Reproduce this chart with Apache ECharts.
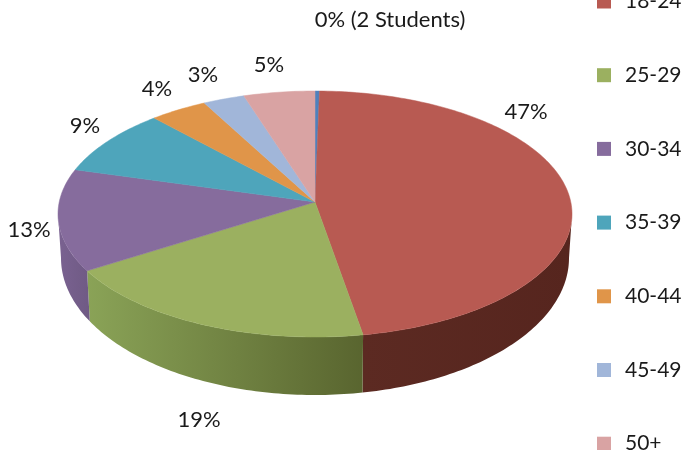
<!DOCTYPE html>
<html>
<head>
<meta charset="utf-8">
<style>
html, body { margin: 0; padding: 0; background: #fff; }
#chart { width: 686px; height: 450px; }
</style>
<script src="https://cdn.jsdelivr.net/npm/echarts@6/dist/echarts.min.js"></script>
</head>
<body>
<div id="chart"></div>
<script>
const categories = ['<18', '18-24', '25-29', '30-34', '35-39', '40-44', '45-49', '50+'];
const shares = [0.3, 46.9, 19.2, 13.4, 8.7, 3.9, 2.8, 4.8];
const labels = ['0% (2 Students)', '47%', '19%', '13%', '9%', '4%', '3%', '5%'];

const colors = ['#4f81bd', '#b85a52', '#9bb060', '#866c9d', '#4ea5bb', '#e09549', '#a1b6d9', '#d9a3a3'];
// 侧面颜色, 左 -> 右
const sideColors = [
    ['#3b618e', '#3b618e'], ['#5c2a22', '#56251e'], ['#8aa357', '#59652f'], ['#7a6291', '#6f5a84'],
    ['#3a7c8c', '#3a7c8c'], ['#a87037', '#a87037'], ['#79899f', '#79899f'], ['#a37a7a', '#a37a7a']
];
const labelPos = [[390, 20], [526, 112], [199, 420], [29, 230], [85, 126], [157, 89], [203, 75], [269, 65]];

const total = shares.reduce((a, b) => a + b, 0);
const apex = [315, 202];
const topRim = { cx: 315, cy: 214, rx: 257, ry: 123 };
const bottomRim = { cx: 315, cy: 258, rx: 254, ry: 137 };

// 透视: 角度略微偏移, 所以正面范围是 94 ~ 266
function rimPoint(rim, deg) {
    const t = (deg - 4 * Math.sin(deg * Math.PI / 180)) * Math.PI / 180;
    return [rim.cx + rim.rx * Math.sin(t), rim.cy - rim.ry * Math.cos(t)];
}

function arcPoints(rim, from, to) {
    const pts = [];
    const n = Math.max(2, Math.ceil(Math.abs(to - from)));
    for (let i = 0; i <= n; i++) {
        pts.push(rimPoint(rim, from + (to - from) * i / n));
    }
    return pts;
}

function startAngle(index) {
    let before = 0;
    for (let i = 0; i < index; i++) before += shares[i];
    return before / total * 360;
}

function renderSlice(index) {
    return function (params, api) {
        const from = startAngle(index);
        const to = from + api.value(0) / total * 360;
        const children = [];
        // 只画朝前的侧面
        const sideFrom = Math.max(from, 94);
        const sideTo = Math.min(to, 266);
        if (sideTo > sideFrom) {
            const upper = arcPoints(topRim, sideFrom, sideTo);
            const lower = arcPoints(bottomRim, sideTo, sideFrom);
            const xs = upper.concat(lower).map(p => p[0]);
            const x0 = Math.min.apply(null, xs);
            const x1 = Math.max.apply(null, xs);
            children.push({
                type: 'polygon',
                shape: { points: upper.concat(lower) },
                style: {
                    fill: new echarts.graphic.LinearGradient(x0, 0, x1, 0, [
                        { offset: 0, color: sideColors[index][0] },
                        { offset: 1, color: sideColors[index][1] }
                    ], true)
                }
            });
        }
        children.push({
            type: 'polygon',
            shape: { points: [apex].concat(arcPoints(topRim, from, to)) },
            style: { fill: colors[index], stroke: colors[index], lineWidth: 0.5 }
        });
        children.push({
            type: 'text',
            style: {
                x: labelPos[index][0],
                y: labelPos[index][1],
                text: labels[index],
                align: 'center',
                verticalAlign: 'middle',
                font: '22px Lato',
                fill: '#1a1a1a'
            }
        });
        return { type: 'group', children: children };
    };
}

const chart = echarts.init(document.getElementById('chart'));
const option = {
    animation: false,
    legend: {
        data: categories.slice(1),
        orient: 'vertical',
        left: 597,
        top: -9,
        height: 520,
        itemWidth: 14,
        itemHeight: 14,
        itemGap: 52.7,
        icon: 'rect',
        selectedMode: false,
        textStyle: { fontFamily: 'Lato', fontSize: 21, color: '#1a1a1a', padding: [0, 0, 0, 9] },
        padding: 0
    },
    series: categories.map((name, i) => ({
        type: 'custom',
        name: name,
        coordinateSystem: 'none',
        silent: true,
        itemStyle: { color: colors[i] },
        data: [[shares[i]]],
        renderItem: renderSlice(i)
    }))
};
chart.setOption(option);
</script>
</body>
</html>
